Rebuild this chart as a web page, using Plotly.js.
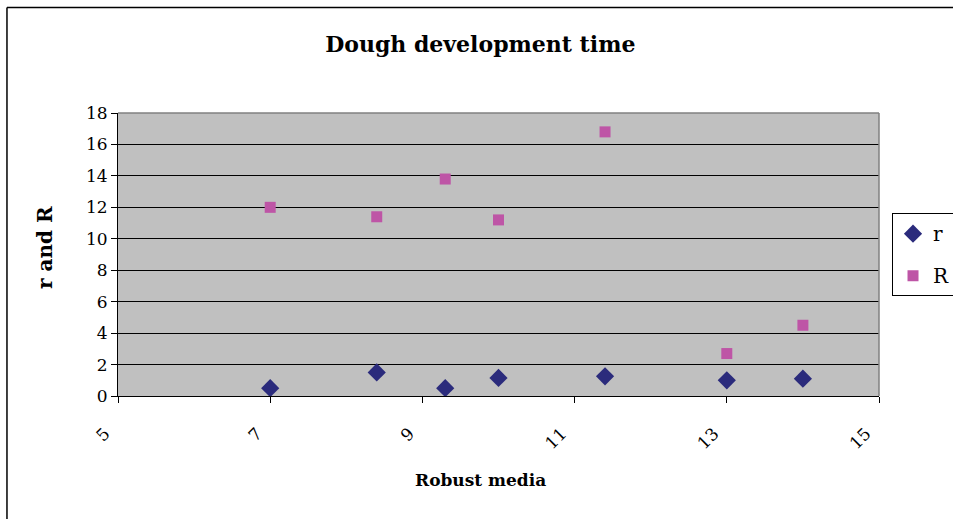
<!DOCTYPE html>
<html>
<head>
<meta charset="utf-8">
<script src="https://cdn.plot.ly/plotly-3.0.1.min.js"></script>
<style>
  html, body { margin: 0; padding: 0; background: #ffffff; }
  #chart { width: 953px; height: 519px; }
</style>
</head>
<body>
<div id="chart"></div>
<script>
// Robust media values and the two dough development series
const robustMedia = [7.0, 8.4, 9.3, 10.0, 11.4, 13.0, 14.0];
const rValues = [0.5, 1.5, 0.5, 1.15, 1.25, 1.0, 1.1];
const bigRValues = [12.0, 11.4, 13.8, 11.2, 16.8, 2.7, 4.5];
const xTicks = [5, 7, 9, 11, 13, 15];
const yTicks = [0, 2, 4, 6, 8, 10, 12, 14, 16, 18];
const xTitle = 'Robust media';
const yTitle = 'r and R';

const FONT = 'DejaVu Serif, serif';

const traces = [
  {
    x: robustMedia, y: rValues, name: 'r', legendgroup: 'r',
    type: 'scatter', mode: 'markers',
    marker: { symbol: 'diamond', size: 14, color: '#2B2B7C' }
  },
  {
    x: robustMedia, y: bigRValues, name: 'R', legendgroup: 'R',
    type: 'scatter', mode: 'markers',
    marker: { symbol: 'square', size: 11, color: '#BE55A6' }
  }
];

const layout = {
  width: 953, height: 519,
  margin: { l: 118, r: 74, t: 113, b: 123, autoexpand: false },
  paper_bgcolor: '#ffffff',
  plot_bgcolor: '#C0C0C0',
  font: { family: FONT, size: 16, color: '#000000' },
  title: {
    text: '<b>Dough development time</b>',
    font: { family: FONT, size: 22, color: '#000000' },
    x: 0.504, xanchor: 'center', y: 0.915, yanchor: 'middle'
  },
  xaxis: {
    range: [5, 15], tickvals: xTicks, ticktext: xTicks.map(String),
    tickangle: -45, ticks: 'outside', ticklen: 6, tickcolor: '#000',
    ticklabelstandoff: 14, ticklabelshift: -13,
    showline: true, linecolor: '#000', linewidth: 1, mirror: false,
    showgrid: false, zeroline: false,
    tickfont: { family: FONT, size: 17 }
  },
  yaxis: {
    range: [0, 18], tickvals: yTicks, ticktext: yTicks.map(String),
    ticks: 'outside', ticklen: 6, tickcolor: '#000',
    showline: true, linecolor: '#000', linewidth: 1,
    showgrid: true, gridcolor: '#000000', gridwidth: 1, zeroline: false,
    tickfont: { family: FONT, size: 17 }
  },
  // axis titles, placed as in the Excel-style layout
  annotations: [
    { text: '<b>' + xTitle + '</b>', xref: 'paper', yref: 'paper',
      x: 0.4757, y: -0.297, xanchor: 'center', yanchor: 'middle',
      showarrow: false, font: { family: FONT, size: 17 } },
    { text: '<b>' + yTitle + '</b>', xref: 'paper', yref: 'paper',
      x: -0.0959, y: 0.523, xanchor: 'center', yanchor: 'middle', textangle: -90,
      showarrow: false, font: { family: FONT, size: 20 } }
  ],
  showlegend: true,
  legend: {
    x: 1.0171, xanchor: 'left', y: 0.646, yanchor: 'top',
    traceorder: 'grouped', tracegroupgap: 13,
    bgcolor: '#ffffff', bordercolor: '#000000', borderwidth: 1,
    font: { family: FONT, size: 20 },
    itemwidth: 30
  },
  shapes: [
    // grey frame on top and right of the plotting area
    { type: 'line', xref: 'paper', yref: 'paper', x0: 0, x1: 1, y0: 1, y1: 1,
      line: { color: '#808080', width: 1.5 } },
    { type: 'line', xref: 'paper', yref: 'paper', x0: 1, x1: 1, y0: 0, y1: 1,
      line: { color: '#808080', width: 1.5 } },
    // outer chart border
    { type: 'line', xref: 'paper', yref: 'paper', x0: -0.1459, x1: 1.2, y0: 1.3728, y1: 1.3728,
      line: { color: '#000000', width: 1.5 } },
    { type: 'line', xref: 'paper', yref: 'paper', x0: -0.1459, x1: -0.1459, y0: -0.6, y1: 1.3728,
      line: { color: '#000000', width: 1.5 } }
  ]
};

Plotly.newPlot('chart', traces, layout, { staticPlot: true, displayModeBar: false });
</script>
</body>
</html>
